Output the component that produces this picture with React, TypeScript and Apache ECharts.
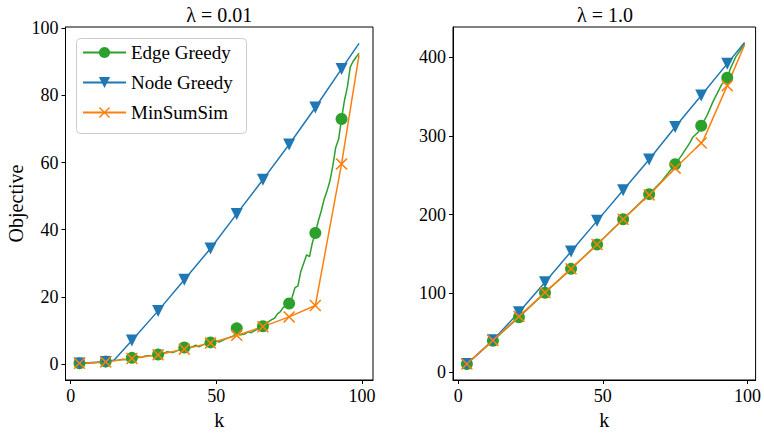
import React, { useEffect, useRef, useState } from "react";
import * as echarts from "echarts";

const FONT = "Liberation Serif";

const seriesNames = ["Edge Greedy", "Node Greedy", "MinSumSim"];
const titles = ["λ = 0.01", "λ = 1.0"];
const markerKs = [3, 12, 21, 30, 39, 48, 57, 66, 75, 84, 93];
const xTicks = [0, 50, 100];
const yTicksLeft = [0, 20, 40, 60, 80, 100];
const yTicksRight = [0, 100, 200, 300, 400];

// lambda = 0.01
const edgeLeftK = [3, 5, 7, 9, 12, 14, 16, 18, 19, 21, 23, 24, 26, 28, 30, 32, 33, 35, 37, 39, 40, 42, 43, 44, 46, 48, 50, 51, 53, 55, 56, 57, 58, 60, 61, 62, 64, 65, 66, 67, 68, 69, 70, 71, 72, 73, 74, 75, 76, 77, 78, 79, 80, 81, 82, 83, 84, 85, 86, 87, 88, 89, 90, 91, 92, 93, 94, 95, 96, 97, 98, 99];
const edgeLeftV = [0.2, 0.3, 0.4, 0.5, 0.7, 0.9, 1.1, 1.4, 1.2, 1.8, 2.2, 1.9, 2.4, 2.5, 2.8, 3.1, 3.6, 3.4, 4.1, 4.9, 4.5, 5.2, 5.6, 5.1, 5.9, 6.4, 6.8, 6.5, 7.4, 8.0, 8.3, 10.6, 8.6, 9.0, 9.6, 9.3, 10.3, 10.8, 11.2, 11.6, 12.6, 13.2, 13.6, 14.9, 15.6, 16.8, 17.5, 18.0, 19.8, 22.7, 23.2, 27.5, 30.0, 32.5, 32.0, 36.2, 39.0, 42.5, 45.5, 49.0, 51.5, 54.5, 59.0, 64.5, 67.0, 73.0, 78.5, 82.5, 88.5, 90.2, 91.4, 92.6];
const nodeLeftK = [3, 12, 15, 21, 30, 39, 48, 57, 66, 75, 84, 93, 99];
const nodeLeftV = [0.1, 0.6, 1.2, 7.0, 15.8, 25.1, 34.4, 44.7, 54.9, 65.4, 76.4, 87.9, 95.5];
const minLeftK = [3, 12, 21, 30, 39, 48, 57, 66, 75, 84, 93, 99];
const minLeftV = [0.2, 0.6, 1.6, 2.7, 4.4, 6.2, 8.5, 11.1, 14.0, 17.4, 59.6, 92.0];

// lambda = 1.0
const edgeRightK = [3, 12, 21, 30, 39, 48, 57, 66, 70, 75, 77, 80, 81, 83, 84, 86, 88, 91, 93, 94, 96, 99];
const edgeRightV = [10, 39.5, 69.5, 100.5, 131, 162, 194, 226, 241, 264, 274, 291, 298, 305, 313, 326, 343, 365, 374, 385, 401, 417];
const nodeRightK = [3, 12, 21, 30, 39, 48, 57, 66, 75, 84, 93, 99];
const nodeRightV = [10, 40.3, 75.7, 114, 153, 192, 231, 270, 311.5, 351.5, 392, 419];
const minRightK = [3, 12, 21, 30, 39, 48, 57, 66, 75, 84, 85, 93, 99];
const minRightV = [10, 40, 70.5, 101, 131, 162, 194, 225, 259, 291, 297, 364, 416];

const COLORS = ["#2ca02c", "#1f77b4", "#ff7f0e"];
const X_PATH =
  "path://M0,9L9,0L50,41L91,0L100,9L59,50L100,91L91,100L50,59L9,100L0,91L41,50Z";
const SYMBOLS = ["circle", "triangle", X_PATH];
const ROTATE = [0, 180, 0];

function toData(ks: number[], vs: number[]) {
  return ks.map((k, i) =>
    markerKs.includes(k) ? { value: [k, vs[i]] } : { value: [k, vs[i]], symbol: "none" }
  );
}

function makeSeries(idx: number, axis: number, ks: number[], vs: number[]) {
  return {
    name: seriesNames[idx],
    type: "line",
    xAxisIndex: axis,
    yAxisIndex: axis,
    data: toData(ks, vs),
    symbol: SYMBOLS[idx],
    symbolSize: 12,
    symbolRotate: ROTATE[idx],
    showSymbol: true,
    showAllSymbol: true,
    lineStyle: { color: COLORS[idx], width: 1.5 },
    itemStyle: { color: COLORS[idx] },
  };
}

function xAxis(gridIndex: number, max: number) {
  return {
    gridIndex, type: "value", min: -1.8, max,
    name: "k", nameLocation: "middle", nameGap: 30,
    nameTextStyle: { fontFamily: FONT, fontSize: 20, color: "#000" },
    axisLine: { show: true, onZero: false, lineStyle: { color: "#000", width: 1 } },
    axisTick: { show: true, length: 4, customValues: xTicks, lineStyle: { color: "#000" } },
    axisLabel: { fontFamily: FONT, fontSize: 18, color: "#000", margin: 7, customValues: xTicks },
    splitLine: { show: false },
  };
}

function yAxis(gridIndex: number, min: number, max: number, ticks: number[], name?: string) {
  return {
    gridIndex, type: "value", min, max,
    name: name || "", nameLocation: "middle", nameGap: 40,
    nameTextStyle: { fontFamily: FONT, fontSize: 20, color: "#000" },
    axisLine: { show: true, onZero: false, lineStyle: { color: "#000", width: 1 } },
    axisTick: { show: true, length: 4, customValues: ticks, lineStyle: { color: "#000" } },
    axisLabel: { fontFamily: FONT, fontSize: 18, color: "#000", margin: 7, customValues: ticks },
    splitLine: { show: false },
  };
}

function buildOption() {
  return {
    animation: false,
    backgroundColor: "#fff",
    grid: [
      { left: 65.5, top: 27, width: 307.5, height: 358, show: true, borderColor: "#000", borderWidth: 1 },
      { left: 453, top: 27, width: 304, height: 358, show: true, borderColor: "#000", borderWidth: 1 },
    ],
    xAxis: [xAxis(0, 103.8), xAxis(1, 102.8)],
    yAxis: [yAxis(0, -4.8, 100.4, yTicksLeft, "Objective"), yAxis(1, -10.4, 438.6, yTicksRight)],
    legend: {
      data: seriesNames, orient: "vertical", left: 77, top: 38,
      itemWidth: 43, itemHeight: 14, itemGap: 11,
      textStyle: { fontFamily: FONT, fontSize: 19, color: "#000" },
    },
    graphic: [
      {
        type: "rect",
        z: 0,
        shape: { x: 76.5, y: 38.5, width: 170, height: 95, r: 4 },
        style: { fill: "rgba(255,255,255,0.8)", stroke: "#cccccc", lineWidth: 1 },
      },
      {
        type: "text", x: 219.25, y: 15,
        style: { text: titles[0], textAlign: "center", textVerticalAlign: "middle", fontFamily: FONT, fontSize: 20, fill: "#000" },
      },
      {
        type: "text", x: 605, y: 15,
        style: { text: titles[1], textAlign: "center", textVerticalAlign: "middle", fontFamily: FONT, fontSize: 20, fill: "#000" },
      },
    ],
    series: [
      makeSeries(0, 0, edgeLeftK, edgeLeftV),
      makeSeries(1, 0, nodeLeftK, nodeLeftV),
      makeSeries(2, 0, minLeftK, minLeftV),
      makeSeries(0, 1, edgeRightK, edgeRightV),
      makeSeries(1, 1, nodeRightK, nodeRightV),
      makeSeries(2, 1, minRightK, minRightV),
    ],
  };
}

export default function App() {
  const ref = useRef<HTMLDivElement>(null);
  const [ready, setReady] = useState(0);
  useEffect(() => {
    document.body.style.margin = "0";
    if (!ref.current) return;
    let alive = true;
    const chart = echarts.init(ref.current, null, { renderer: "svg" });
    chart.setOption(buildOption());
    setReady(1);
    const fonts = (document as any).fonts;
    if (fonts && fonts.ready) {
      fonts.ready.then(() => {
        if (!alive) return;
        chart.clear();
        chart.setOption(buildOption());
        setReady(2);
      });
    }
    return () => {
      alive = false;
      chart.dispose();
    };
  }, []);
  return (
    <div style={{ position: "relative" }} data-ready={ready}>
      <div ref={ref} style={{ width: 764, height: 435 }} />
      <span
        aria-hidden="true"
        style={{ position: "absolute", left: 0, top: 0, opacity: 0, pointerEvents: "none", fontFamily: FONT, fontSize: 18 }}
      >
        {"\u00a0"}
      </span>
    </div>
  );
}
